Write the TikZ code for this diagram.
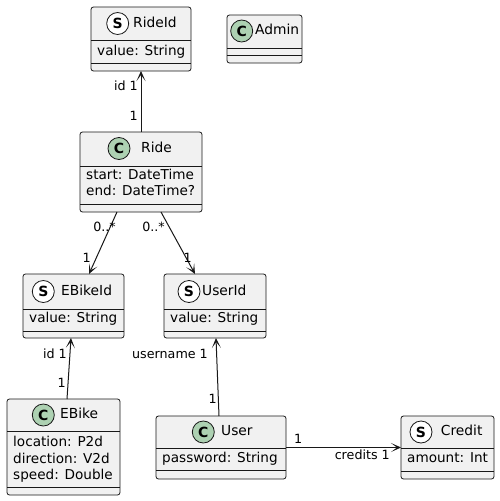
\documentclass[tikz,border=0pt]{standalone}
\usepackage{fontspec}
\setmainfont{DejaVu Sans}
\usetikzlibrary{arrows.meta,calc}
\definecolor{boxfill}{HTML}{F1F1F1}
\definecolor{boxline}{HTML}{181818}
\definecolor{cgreen}{HTML}{ADD1B2}
\newcommand\umlcls[7]{%
  \node[classbox,minimum width={(#4)-(#2)},minimum height={(#5)-(#3)}] (#1) at ({((#2)+(#4))/2},{((#3)+(#5))/2}) {};
  \draw[sepline] (#2,#6) -- (#4,#6) (#2,#7) -- (#4,#7);}
\begin{document}
\begin{tikzpicture}[x=1pt,y=-1pt,
  classbox/.style={draw=boxline,fill=boxfill,line width=0.8pt,rounded corners=2.5pt,inner sep=0pt,outer sep=0pt},
  sepline/.style={draw=boxline,line width=0.8pt},
  ctitle/.style={font=\fontsize{13.8}{16}\selectfont,anchor=west,inner sep=0pt,text height=10pt,text depth=3pt},
  cattr/.style={font=\fontsize{13.6}{16}\selectfont,anchor=west,inner sep=0pt,text height=10pt,text depth=3pt},
  lbl/.style={font=\fontsize{12.7}{15}\selectfont,inner sep=0pt,text height=9.5pt,text depth=3pt},
  scirc/.style={circle,draw=boxline,line width=0.8pt,fill=white,minimum size=22pt,inner sep=0pt,font=\fontsize{14}{16}\selectfont\bfseries},
  ccirc/.style={circle,draw=boxline,line width=0.8pt,fill=cgreen,minimum size=22pt,inner sep=0pt,font=\fontsize{14}{16}\selectfont\bfseries},
  assoc/.style={draw=boxline,line width=1pt,-{Stealth[length=10pt,width=9pt,inset=6pt]}},
  plainline/.style={draw=boxline,line width=1pt}]
\useasboundingbox (0,0) rectangle (500,501);
\fill[white] (0,0) rectangle (500,501);

% RideId
\umlcls{rideid}{91}{7}{191}{71}{40}{63}
\node[scirc] (rideid-c) at (117.7,23.5) {S};
\node[ctitle] (rideid-t) at (133,23.5) {RideId};
\node[cattr] (rideid-a) at (97,52) {value: String};

% Admin
\umlcls{admin}{227}{15}{302}{63}{48}{55}
\node[ccirc] (admin-c) at (241.7,31) {C};
\node[ctitle] (admin-t) at (255,31) {Admin};

% Ride
\umlcls{ride}{80}{132}{202}{212}{166}{204}
\node[ccirc] (ride-c) at (119,148.5) {C};
\node[ctitle] (ride-t) at (141,148.5) {Ride};
\node[cattr] (ride-a1) at (86,176) {start: DateTime};
\node[cattr] (ride-a2) at (86,192) {end: DateTime?};

% EBikeId
\umlcls{ebikeid}{23}{274}{124}{338}{309}{331}
\node[scirc] (ebikeid-c) at (43.3,291.5) {S};
\node[ctitle] (ebikeid-t) at (61,291.5) {EBikeId};
\node[cattr] (ebikeid-a) at (29,319) {value: String};

% UserId
\umlcls{userid}{164}{274}{266}{338}{309}{331}
\node[scirc] (userid-c) at (189,291.5) {S};
\node[ctitle] (userid-t) at (202,291.5) {UserId};
\node[cattr] (userid-a) at (170,319) {value: String};

% EBike
\umlcls{ebike}{7}{399}{120}{495}{431}{487}
\node[ccirc] (ebike-c) at (43.3,415) {C};
\node[ctitle] (ebike-t) at (60,415) {EBike};
\node[cattr] (ebike-a1) at (13,443) {location: P2d};
\node[cattr] (ebike-a2) at (13,459.5) {direction: V2d};
\node[cattr] (ebike-a3) at (13,476) {speed: Double};

% User
\umlcls{user}{156}{416}{286}{479}{448}{470}
\node[ccirc] (user-c) at (203.3,432) {C};
\node[ctitle] (user-t) at (221,432) {User};
\node[cattr] (user-a) at (162,459) {password: String};

% Credit
\umlcls{credit}{401}{416}{494}{479}{448}{471}
\node[scirc] (credit-c) at (421,432) {S};
\node[ctitle] (credit-t) at (440.7,432) {Credit};
\node[cattr] (credit-a) at (407,459) {amount: Int};

% connectors
\draw[assoc] (ride.north) -- (rideid.south);
\draw[assoc] ([xshift=-24pt]ride.south) -- ([xshift=15.5pt]ebikeid.north);
\draw[assoc] ([xshift=20pt]ride.south) -- ([xshift=-20pt]userid.north);
\draw[assoc] ([xshift=3.5pt]ebike.north) -- ([xshift=-2.5pt]ebikeid.south);
\draw[assoc] ([xshift=-2pt]user.north) -- ([xshift=1pt]userid.south);
\draw[assoc] (user.east) -- (credit.west);

% labels
\node[lbl,anchor=east] (l1) at (138,87) {id 1};
\node[lbl,anchor=east] (l2) at (138,117) {1};
\node[lbl,anchor=east] (l3) at (116,228) {0..*};
\node[lbl,anchor=east] (l4) at (91,259) {1};
\node[lbl,anchor=east] (l5) at (165,228) {0..*};
\node[lbl,anchor=east] (l6) at (192,259) {1};
\node[lbl,anchor=east] (l7) at (67,355) {id 1};
\node[lbl,anchor=east] (l8) at (66,384) {1};
\node[lbl,anchor=east] (l9) at (208,355) {username 1};
\node[lbl,anchor=east] (l10) at (217,400) {1};
\node[lbl,anchor=west] (l11) at (294,440) {1};
\node[lbl,anchor=east] (l12) at (390,456) {credits 1};
\end{tikzpicture}
\end{document}
